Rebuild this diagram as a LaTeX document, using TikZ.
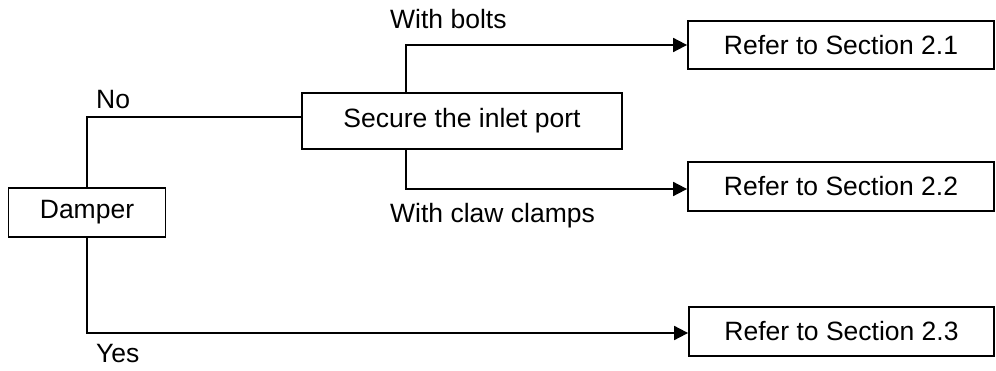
\documentclass[tikz,border=0pt]{standalone}
\usepackage{fontspec}
\setmainfont{Liberation Sans}
\usetikzlibrary{arrows.meta}
\begin{document}
\begin{tikzpicture}[x=1pt,y=-1pt,
  txt/.style={font=\fontsize{26.5}{30}\selectfont, inner sep=0pt},
  box/.style={txt, draw, line width=1.8pt, rectangle},
  link/.style={line width=1.8pt},
  arr/.style={link, -{Triangle[length=14pt,width=14pt]}}]
  \useasboundingbox (0,0) rectangle (996,371);

  % boxes
  \node[box, minimum width=157pt, minimum height=49pt] (dam) at (87,212.5) {Damper};
  \node[box, minimum width=320pt, minimum height=56pt] (sec) at (462,121) {Secure the inlet port};
  \node[box, minimum width=306pt, minimum height=48pt] (r1) at (841,45) {Refer to Section 2.1};
  \node[box, minimum width=306pt, minimum height=49pt] (r2) at (841,186.5) {Refer to Section 2.2};
  \node[box, minimum width=305pt, minimum height=49pt] (r3) at (841.5,331.5) {Refer to Section 2.3};

  % bend points
  \coordinate (nc) at (87,117);
  \coordinate (yc) at (87,333);
  \coordinate (bt) at (406,45);
  \coordinate (bb) at (406,189);

  % connectors
  \draw[link] (dam.north) -- (nc) -- (nc -| sec.west);
  \draw[arr] (dam.south) -- (yc) -- (yc -| r3.west);
  \draw[arr] (bt |- sec.north) -- (bt) -- (r1.west);
  \draw[arr] (bb |- sec.south) -- (bb) -- (bb -| r2.west);

  % branch labels
  \node[txt, anchor=west] (lno) at (96,100) {No};
  \node[txt, anchor=west] (lyes) at (96,354) {Yes};
  \node[txt, anchor=west] (lbolts) at (390,19) {With bolts};
  \node[txt, anchor=west] (lclaw) at (390,216) {With claw clamps};
\end{tikzpicture}
\end{document}
